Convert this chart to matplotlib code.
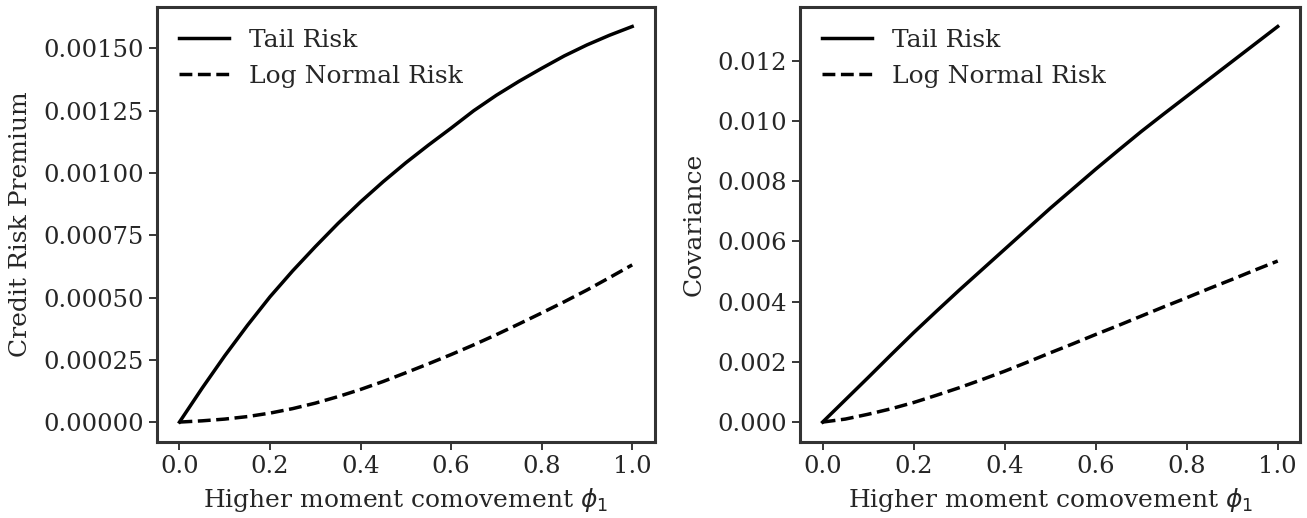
"""Credit risk premium and covariance vs. higher moment comovement."""

import matplotlib
matplotlib.use("Agg")
import matplotlib.pyplot as plt

phi = [0.0, 0.05, 0.1, 0.15, 0.2, 0.25, 0.3, 0.35, 0.4, 0.45, 0.5,
       0.55, 0.6, 0.65, 0.7, 0.75, 0.8, 0.85, 0.9, 0.95, 1.0]

# values (x 1e-3)
premium_tail = [0.0, 0.136, 0.266, 0.388, 0.503, 0.607, 0.704, 0.797, 0.884, 0.965, 1.041,
                1.112, 1.180, 1.250, 1.312, 1.368, 1.420, 1.470, 1.514, 1.553, 1.588]
premium_lognormal = [0.0, 0.005, 0.012, 0.022, 0.036, 0.054, 0.076, 0.102, 0.131, 0.163, 0.198,
                     0.234, 0.271, 0.310, 0.351, 0.394, 0.438, 0.483, 0.530, 0.580, 0.631]

cov_tail = [0.0, 0.74, 1.48, 2.23, 2.97, 3.68, 4.38, 5.06, 5.74, 6.42, 7.10,
            7.75, 8.40, 9.03, 9.65, 10.24, 10.82, 11.40, 11.98, 12.56, 13.14]
cov_lognormal = [0.0, 0.10, 0.26, 0.44, 0.65, 0.89, 1.14, 1.41, 1.69, 1.99, 2.30,
                 2.60, 2.91, 3.21, 3.52, 3.83, 4.13, 4.44, 4.74, 5.05, 5.35]

plt.rcParams.update({
    "font.family": "DejaVu Serif",
    "font.size": 18,
    "text.color": "#262626",
    "axes.labelcolor": "#262626",
    "xtick.color": "#262626",
    "ytick.color": "#262626",
    "xtick.labelsize": 17.5,
    "ytick.labelsize": 17.5,
    "axes.edgecolor": "#333333",
    "axes.linewidth": 2.2,
    "xtick.major.size": 6,
    "ytick.major.size": 6,
    "xtick.major.width": 1.3,
    "ytick.major.width": 1.3,
})

fig = plt.figure(figsize=(13.07, 5.18), dpi=100)
ax1 = fig.add_axes([0.120, 0.147, 0.381, 0.840])
ax2 = fig.add_axes([0.612, 0.147, 0.383, 0.840])

panels = [
    (ax1, [v * 1e-3 for v in premium_tail], [v * 1e-3 for v in premium_lognormal],
     "Credit Risk Premium"),
    (ax2, [v * 1e-3 for v in cov_tail], [v * 1e-3 for v in cov_lognormal], "Covariance"),
]

for ax, tail, lognormal, ylabel in panels:
    ax.plot(phi, tail, color="black", lw=2.5, label="Tail Risk")
    ax.plot(phi, lognormal, color="black", lw=2.5, ls="--", label="Log Normal Risk")
    ax.set_xlabel(r"Higher moment comovement $\phi_1$", labelpad=6)
    ax.set_ylabel(ylabel, labelpad=8)
    ax.set_xticks([0.0, 0.2, 0.4, 0.6, 0.8, 1.0])
    ax.legend(loc="upper left", frameon=False, fontsize=18)

ax1.set_yticks([0.0, 0.00025, 0.0005, 0.00075, 0.001, 0.00125, 0.0015])
ax1.set_yticklabels(["0.00000", "0.00025", "0.00050", "0.00075",
                     "0.00100", "0.00125", "0.00150"])
ax2.set_yticks([0.0, 0.002, 0.004, 0.006, 0.008, 0.010, 0.012])
ax2.set_yticklabels(["0.000", "0.002", "0.004", "0.006", "0.008", "0.010", "0.012"])

plt.savefig("out.png", dpi=100, facecolor="white")
plt.close()
